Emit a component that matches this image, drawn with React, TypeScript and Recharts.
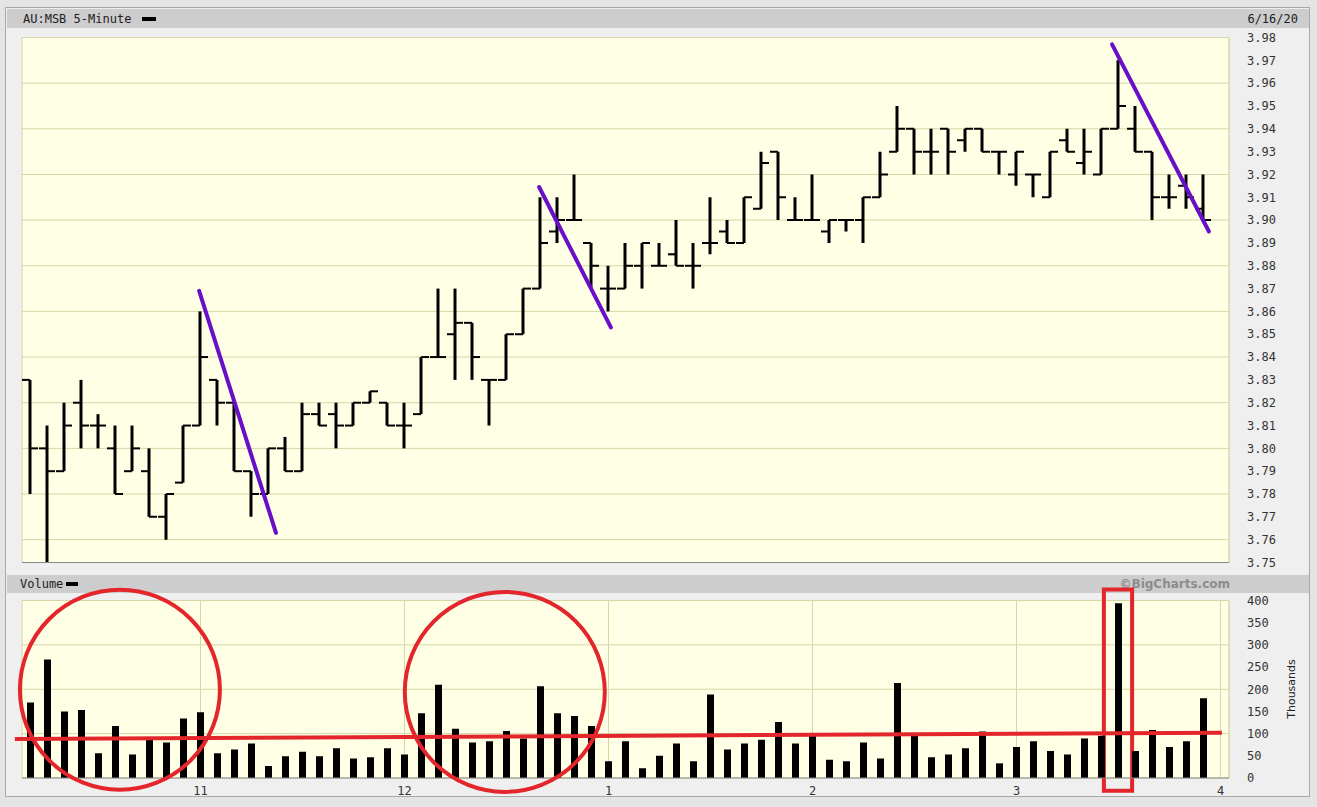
import React from "react";
import {
  Bar,
  CartesianGrid,
  ComposedChart,
  ReferenceArea,
  ReferenceDot,
  ReferenceLine,
  XAxis,
  YAxis,
} from "recharts";

// 5-minute bars, 10:10 .. 15:55
const times = [
  "10:10", "10:15", "10:20", "10:25", "10:30", "10:35", "10:40", "10:45", "10:50", "10:55",
  "11:00", "11:05", "11:10", "11:15", "11:20", "11:25", "11:30", "11:35", "11:40", "11:45",
  "11:50", "11:55", "12:00", "12:05", "12:10", "12:15", "12:20", "12:25", "12:30", "12:35",
  "12:40", "12:45", "12:50", "12:55", "13:00", "13:05", "13:10", "13:15", "13:20", "13:25",
  "13:30", "13:35", "13:40", "13:45", "13:50", "13:55", "14:00", "14:05", "14:10", "14:15",
  "14:20", "14:25", "14:30", "14:35", "14:40", "14:45", "14:50", "14:55", "15:00", "15:05",
  "15:10", "15:15", "15:20", "15:25", "15:30", "15:35", "15:40", "15:45", "15:50", "15:55",
];

const opens = [
  3.83, 3.8, 3.79, 3.82, 3.81, 3.8, 3.79, 3.79, 3.77, 3.785,
  3.81, 3.83, 3.82, 3.79, 3.78, 3.8, 3.79, 3.815, 3.815, 3.81,
  3.82, 3.82, 3.81, 3.815, 3.84, 3.85, 3.855, 3.83, 3.83, 3.85,
  3.87, 3.895, 3.9, 3.89, 3.87, 3.87, 3.88, 3.88, 3.885, 3.88,
  3.89, 3.895, 3.89, 3.905, 3.93, 3.9, 3.9, 3.895, 3.9, 3.9,
  3.91, 3.93, 3.94, 3.93, 3.94, 3.935, 3.94, 3.93, 3.92, 3.92,
  3.91, 3.935, 3.925, 3.92, 3.94, 3.94, 3.93, 3.91, 3.915, 3.905,
];
const highs = [
  3.83, 3.81, 3.82, 3.83, 3.815, 3.81, 3.81, 3.8, 3.78, 3.81,
  3.86, 3.83, 3.82, 3.79, 3.8, 3.805, 3.82, 3.82, 3.82, 3.82,
  3.825, 3.82, 3.82, 3.84, 3.87, 3.87, 3.855, 3.83, 3.85, 3.87,
  3.91, 3.91, 3.92, 3.89, 3.88, 3.89, 3.89, 3.89, 3.9, 3.89,
  3.91, 3.9, 3.91, 3.93, 3.93, 3.91, 3.92, 3.9, 3.9, 3.91,
  3.93, 3.95, 3.94, 3.94, 3.94, 3.94, 3.94, 3.93, 3.93, 3.92,
  3.93, 3.94, 3.94, 3.94, 3.97, 3.95, 3.93, 3.92, 3.92, 3.92,
];
const lows = [
  3.78, 3.75, 3.79, 3.8, 3.8, 3.78, 3.79, 3.77, 3.76, 3.785,
  3.81, 3.81, 3.79, 3.77, 3.78, 3.79, 3.79, 3.81, 3.8, 3.81,
  3.82, 3.81, 3.8, 3.815, 3.84, 3.83, 3.83, 3.81, 3.83, 3.85,
  3.87, 3.89, 3.9, 3.87, 3.86, 3.87, 3.87, 3.88, 3.88, 3.87,
  3.885, 3.89, 3.89, 3.905, 3.9, 3.9, 3.9, 3.89, 3.895, 3.89,
  3.91, 3.93, 3.92, 3.92, 3.92, 3.93, 3.93, 3.92, 3.915, 3.91,
  3.91, 3.93, 3.92, 3.92, 3.94, 3.93, 3.9, 3.905, 3.905, 3.9,
];
const closes = [
  3.8, 3.79, 3.81, 3.81, 3.81, 3.78, 3.8, 3.77, 3.78, 3.81,
  3.84, 3.82, 3.79, 3.78, 3.8, 3.79, 3.815, 3.81, 3.81, 3.82,
  3.825, 3.81, 3.81, 3.84, 3.84, 3.855, 3.84, 3.83, 3.85, 3.87,
  3.89, 3.9, 3.9, 3.88, 3.87, 3.88, 3.89, 3.88, 3.88, 3.88,
  3.89, 3.89, 3.91, 3.925, 3.91, 3.9, 3.9, 3.9, 3.9, 3.91,
  3.92, 3.94, 3.93, 3.93, 3.93, 3.94, 3.93, 3.93, 3.93, 3.92,
  3.93, 3.93, 3.93, 3.94, 3.95, 3.93, 3.91, 3.91, 3.91, 3.9,
];
// thousands
const volumes = [
  170, 267, 150, 153, 56, 117, 53, 86, 80, 134,
  148, 56, 64, 78, 27, 49, 59, 49, 67, 44,
  47, 67, 53, 146, 210, 111, 80, 83, 106, 89,
  207, 146, 140, 117, 38, 83, 22, 50, 78, 38,
  188, 64, 78, 86, 126, 78, 95, 41, 38, 80,
  44, 214, 95, 47, 53, 67, 105, 33, 70, 83,
  61, 53, 89, 95, 394, 61, 108, 70, 83, 180,
];

const priceTicks = [
  3.75, 3.76, 3.77, 3.78, 3.79, 3.8, 3.81, 3.82, 3.83, 3.84, 3.85, 3.86,
  3.87, 3.88, 3.89, 3.9, 3.91, 3.92, 3.93, 3.94, 3.95, 3.96, 3.97, 3.98,
];
const volumeTicks = [0, 50, 100, 150, 200, 250, 300, 350, 400];
const hourTicks = ["11:00", "12:00", "13:00", "14:00", "15:00", "16:00"];
const hourLabels = ["11", "12", "1", "2", "3", "4"];

// hand-drawn markup, in chart units (minutes after 10:00, price / thousands)
const purpleLines = [
  [59.6, 3.869, 82.2, 3.763],
  [159.6, 3.9145, 180.7, 3.853],
  [328.1, 3.977, 356.6, 3.895],
];
const redCircles = [
  [36.3, 199],
  [149.5, 194],
];
const redBox = [325.7, 334, 425, -29];
const redLine = [5.4, 88, 360.4, 102];

const toMin = (s: string) => {
  const [h, m] = s.split(":").map(Number);
  return (h - 10) * 60 + m;
};

const rows = times.map((t, i) => ({
  t: toMin(t),
  open: opens[i],
  high: highs[i],
  low: lows[i],
  close: closes[i],
  range: [lows[i], highs[i]],
  vol: volumes[i],
}));

const hourMins = hourTicks.map(toMin);
const hourLabel = (v: number) => hourLabels[hourMins.indexOf(v)] ?? "";

const X_DOMAIN: [number, number] = [7.5, 362.5];
const mono = "'DejaVu Sans Mono', monospace";
const gridStroke = "#d6d6a6";
const plotFill = "#ffffe6";
const tickStyle = { fontFamily: mono, fontSize: 12, fill: "#333" };

const OhlcShape = (props: any) => {
  const { x, y, width, height, payload } = props;
  if (!payload || payload.high == null) return null;
  const cx = Math.round(x + width / 2);
  const top = Math.min(y, y + height);
  const h = Math.abs(height);
  const span = payload.high - payload.low || 1;
  const py = (v: number) => top + ((payload.high - v) / span) * h;
  return (
    <g>
      <line x1={cx} x2={cx} y1={top} y2={top + h} stroke="#000" strokeWidth={3} />
      <line x1={cx - 8} x2={cx} y1={py(payload.open)} y2={py(payload.open)} stroke="#000" strokeWidth={2} />
      <line x1={cx} x2={cx + 8} y1={py(payload.close)} y2={py(payload.close)} stroke="#000" strokeWidth={2} />
    </g>
  );
};

const abs = (l: number, t: number, extra: React.CSSProperties = {}): React.CSSProperties => ({
  position: "absolute",
  left: l,
  top: t,
  ...extra,
});

export default function App() {
  return (
    <div style={abs(0, 0, { width: 1317, height: 807, background: "#e4e4e4", overflow: "hidden" })}>
      <div
        style={abs(5, 7, {
          width: 1305,
          height: 790,
          background: "#efefef",
          border: "1px solid #a8a8a8",
          boxSizing: "border-box",
        })}
      />
      {/* top header band */}
      <div style={abs(7, 9, { width: 1302, height: 19, background: "#cdcdcd" })} />
      <div style={abs(23, 11, { fontFamily: mono, fontSize: 12, color: "#222", lineHeight: "16px" })}>
        AU:MSB 5-Minute
      </div>
      <div style={abs(142, 17, { width: 14, height: 4, background: "#000" })} />
      <div style={abs(1180, 11, { width: 118, textAlign: "right", fontFamily: mono, fontSize: 12, color: "#222", lineHeight: "16px" })}>
        6/16/20
      </div>

      {/* volume header band */}
      <div style={abs(7, 575, { width: 1302, height: 18, background: "#cdcdcd" })} />
      <div style={abs(20, 576, { fontFamily: mono, fontSize: 12, color: "#222", lineHeight: "16px" })}>
        Volume
      </div>
      <div style={abs(66, 582, { width: 12, height: 4, background: "#000" })} />
      <div
        style={abs(1080, 576, {
          width: 150,
          textAlign: "right",
          fontFamily: "'DejaVu Sans', sans-serif",
          fontWeight: "bold",
          fontSize: 12,
          color: "#8c8c8c",
          lineHeight: "16px",
        })}
      >
        ©BigCharts.com
      </div>
      <div
        style={abs(1262, 682, {
          width: 60,
          textAlign: "center",
          transform: "rotate(-90deg)",
          fontFamily: "'DejaVu Sans', sans-serif",
          fontSize: 11,
          color: "#222",
          lineHeight: "14px",
        })}
      >
        Thousands
      </div>

      {/* price panel */}
      <div style={abs(0, 28)}>
        <ComposedChart
          width={1317}
          height={546}
          data={rows}
          margin={{ top: 9.5, right: 28, bottom: 10.5, left: 22 }}
        >
          <CartesianGrid fill={plotFill} stroke={gridStroke} verticalPoints={undefined} />
          <XAxis
            dataKey="t"
            type="number"
            domain={X_DOMAIN}
            ticks={hourMins}
            allowDataOverflow
            height={1}
            tick={false}
            tickLine={false}
            axisLine={{ stroke: "#888" }}
          />
          <YAxis
            orientation="right"
            type="number"
            domain={[3.75, 3.98]}
            ticks={priceTicks}
            allowDataOverflow
            width={60}
            axisLine={false}
            tickLine={false}
            tickMargin={12}
            tick={tickStyle}
            tickFormatter={(v: number) => v.toFixed(2)}
          />
          <ReferenceLine x={X_DOMAIN[1]} stroke={gridStroke} />
          <Bar dataKey="range" barSize={10} shape={<OhlcShape />} isAnimationActive={false} />
          {purpleLines.map(([x1, y1, x2, y2], i) => (
            <ReferenceLine
              key={i}
              segment={[
                { x: x1, y: y1 },
                { x: x2, y: y2 },
              ]}
              stroke="#6a0fc8"
              strokeWidth={4}
              strokeLinecap="round"
              ifOverflow="visible"
            />
          ))}
        </ComposedChart>
      </div>

      {/* volume panel */}
      <div style={abs(0, 575)}>
        <ComposedChart
          width={1317}
          height={232}
          data={rows}
          margin={{ top: 25.5, right: 28, bottom: 9, left: 22 }}
        >
          <CartesianGrid fill={plotFill} stroke={gridStroke} />
          <XAxis
            dataKey="t"
            type="number"
            domain={X_DOMAIN}
            ticks={hourMins}
            allowDataOverflow
            height={20}
            tickLine={false}
            axisLine={{ stroke: "#888" }}
            tick={tickStyle}
            tickFormatter={hourLabel}
          />
          <YAxis
            orientation="right"
            type="number"
            domain={[0, 400]}
            ticks={volumeTicks}
            allowDataOverflow
            width={60}
            axisLine={false}
            tickLine={false}
            tickMargin={12}
            tick={tickStyle}
          />
          <ReferenceLine x={X_DOMAIN[1]} stroke={gridStroke} />
          <Bar dataKey="vol" barSize={7} fill="#000" isAnimationActive={false} />
          <ReferenceLine
            segment={[
              { x: redLine[0], y: redLine[1] },
              { x: redLine[2], y: redLine[3] },
            ]}
            stroke="#e3262b"
            strokeWidth={4}
            ifOverflow="visible"
          />
          {redCircles.map(([cx, cy], i) => (
            <ReferenceDot
              key={i}
              x={cx}
              y={cy}
              r={100}
              fill="none"
              stroke="#e3262b"
              strokeWidth={4}
              ifOverflow="visible"
            />
          ))}
          <ReferenceArea
            x1={redBox[0]}
            x2={redBox[1]}
            y1={redBox[2]}
            y2={redBox[3]}
            fill="none"
            fillOpacity={0}
            stroke="#e3262b"
            strokeWidth={4}
            strokeOpacity={1}
            ifOverflow="visible"
          />
        </ComposedChart>
      </div>
    </div>
  );
}
